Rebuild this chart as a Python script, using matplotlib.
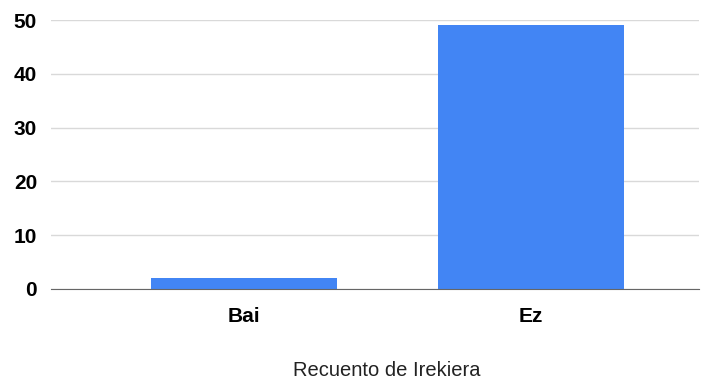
import matplotlib
matplotlib.use("Agg")
import matplotlib.pyplot as plt

# data
categories = ["Bai", "Ez"]
counts = [2, 49]
y_ticks = [0, 10, 20, 30, 40, 50]

plt.rcParams["font.family"] = ["Liberation Sans", "DejaVu Sans"]

fig = plt.figure(figsize=(7.15, 3.81), dpi=100)
ax = fig.add_axes([0.0713, 0.2415, 0.9063, 0.706])

x = list(range(len(categories)))
ax.bar(x, counts, width=0.648, color="#4285f4", zorder=3)

ax.set_xlim(-0.672, 1.585)
ax.set_ylim(0, 50)
ax.set_yticks(y_ticks)
ax.set_xticks(x)
ax.set_xticklabels(categories)

for lab in ax.get_yticklabels() + ax.get_xticklabels():
    lab.set_fontweight("bold")
    lab.set_fontsize(15)
    lab.set_color("#000000")

ax.tick_params(axis="both", length=0)
ax.tick_params(axis="y", pad=10)
ax.tick_params(axis="x", pad=13)

ax.grid(axis="y", color="#d9d9d9", linewidth=1, zorder=0)
for s in ["top", "right", "left"]:
    ax.spines[s].set_visible(False)
ax.spines["bottom"].set_color("#666666")
ax.spines["bottom"].set_zorder(4)

ax.set_xlabel("Recuento de Irekiera", fontsize=14.5, color="#222222", labelpad=25)
ax.xaxis.label.set_x(0.5185)  # title sits a bit right of centre in the original

fig.savefig("out.png", dpi=100)
